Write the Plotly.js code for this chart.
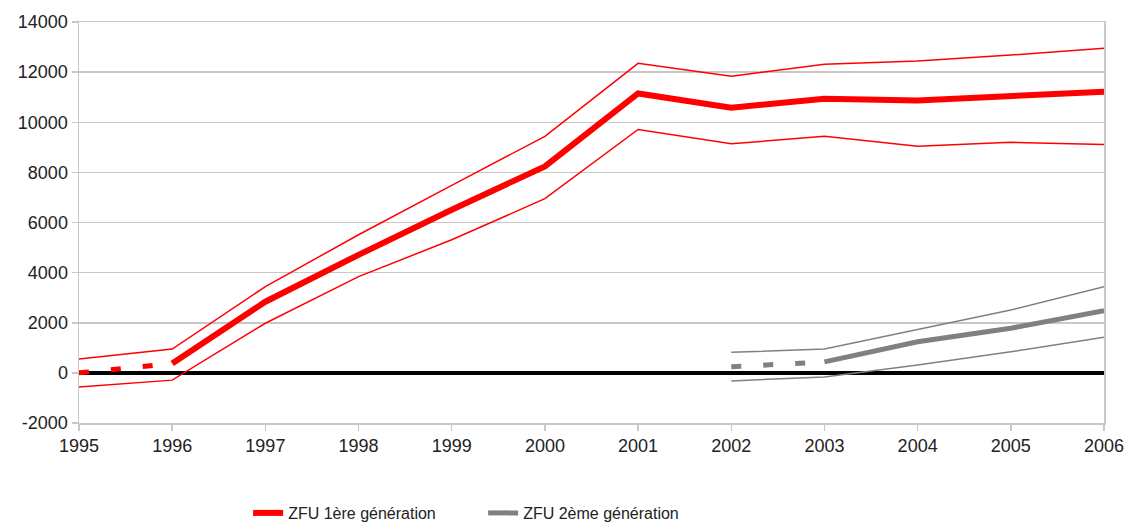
<!DOCTYPE html>
<html>
<head>
<meta charset="utf-8">
<script src="https://cdn.plot.ly/plotly-3.0.1.min.js"></script>
<style>html,body{margin:0;padding:0;background:#fff;}#chart{width:1130px;height:524px;}</style>
</head>
<body>
<div id="chart"></div>
<script>
const years = [1995,1996,1997,1998,1999,2000,2001,2002,2003,2004,2005,2006];
const yTicks = [-2000,0,2000,4000,6000,8000,10000,12000,14000];
const yTickLabels = ['-2000','0','2000','4000','6000','8000','10000','12000','14000'];
const zfu1Mid = [null,375,2840,4710,6510,8240,11150,10580,10940,10870,11040,11220];
const zfu1Hi  = [550,950,3440,5510,7480,9440,12350,11840,12310,12440,12680,12950];
const zfu1Lo  = [-560,-290,1980,3840,5310,6950,9710,9140,9440,9040,9200,9110];
const zfu1Dash = [0,375,null,null,null,null,null,null,null,null,null,null];
const zfu2Mid = [null,null,null,null,null,null,null,null,440,1240,1780,2480];
const zfu2Hi  = [null,null,null,null,null,null,null,820,950,1730,2510,3440];
const zfu2Lo  = [null,null,null,null,null,null,null,-320,-160,310,840,1420];
const zfu2Dash = [null,null,null,null,null,null,null,240,440,null,null,null];
const names = ['ZFU 1ère génération','ZFU 2ème génération'];
const RED = '#ff0000', GRAY = '#808080';

const traces = [
  {x:years,y:zfu1Hi,mode:'lines',line:{color:RED,width:1.5},showlegend:false,hoverinfo:'skip'},
  {x:years,y:zfu1Lo,mode:'lines',line:{color:RED,width:1.5},showlegend:false,hoverinfo:'skip'},
  {x:years,y:zfu2Hi,mode:'lines',line:{color:GRAY,width:1.5},showlegend:false,hoverinfo:'skip'},
  {x:years,y:zfu2Lo,mode:'lines',line:{color:GRAY,width:1.5},showlegend:false,hoverinfo:'skip'},
  {x:years,y:zfu1Dash,mode:'lines',line:{color:RED,width:5,dash:'10px,22px'},showlegend:false,hoverinfo:'skip'},
  {x:years,y:zfu2Dash,mode:'lines',line:{color:GRAY,width:5,dash:'10px,22px'},showlegend:false,hoverinfo:'skip'},
  {x:years,y:zfu1Mid,mode:'lines',name:names[0],line:{color:RED,width:6}},
  {x:years,y:zfu2Mid,mode:'lines',name:names[1],line:{color:GRAY,width:5}}
];

const layout = {
  width:1130,height:524,
  margin:{l:79,r:26,t:22,b:101},
  paper_bgcolor:'#fff',plot_bgcolor:'#fff',
  font:{family:'"Liberation Sans", Arial, sans-serif',size:18,color:'#222'},
  showlegend:true,
  legend:{orientation:'h',x:0.165,xanchor:'left',xref:'paper',
          y:0.021,yanchor:'middle',yref:'container',
          font:{size:16,color:'#222'},entrywidth:190},
  xaxis:{range:[1995,2006],tickmode:'array',tickvals:years,ticktext:years.map(String),
         showgrid:false,zeroline:false,showline:true,linecolor:'#c8c8c8',linewidth:1.5,
         mirror:true,ticks:'outside',ticklen:6,tickcolor:'#c8c8c8',tickwidth:1.5,
         tickfont:{size:18},automargin:false},
  yaxis:{range:[-2000,14000],tickmode:'array',tickvals:yTicks,ticktext:yTickLabels,
         showgrid:true,gridcolor:'#c8c8c8',gridwidth:1.5,
         zeroline:true,zerolinecolor:'#000',zerolinewidth:4,
         showline:true,linecolor:'#c8c8c8',linewidth:1.5,mirror:true,
         ticks:'outside',ticklen:6,tickcolor:'#c8c8c8',tickwidth:1.5,
         tickfont:{size:18},automargin:false}
};
Plotly.newPlot('chart',traces,layout,{displayModeBar:false,staticPlot:true});
</script>
</body>
</html>
